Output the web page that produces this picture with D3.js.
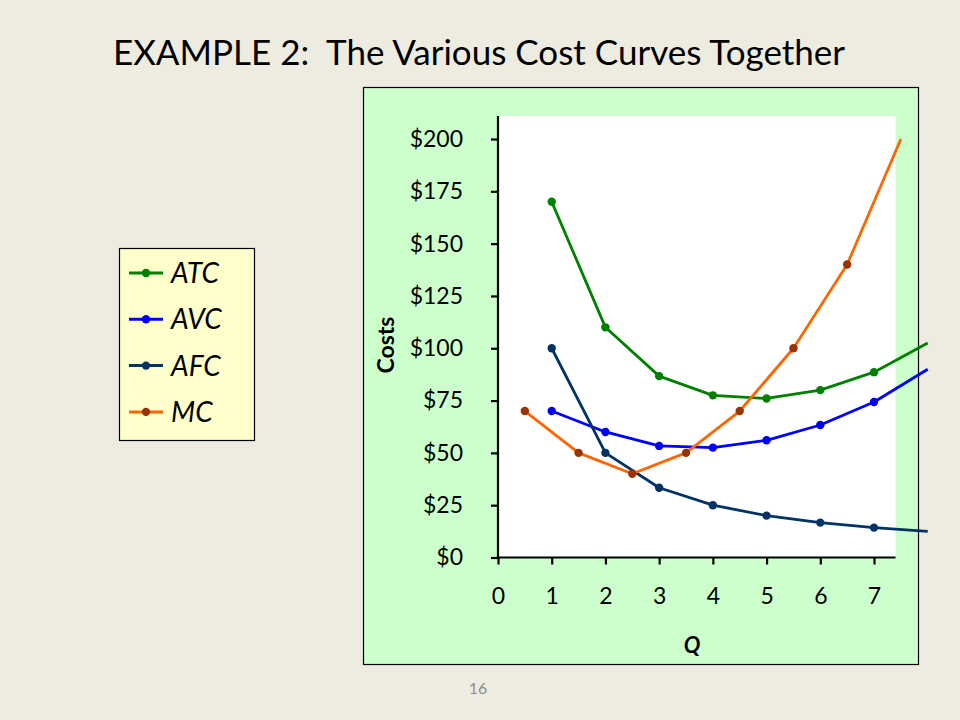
<!DOCTYPE html>
<html>
<head>
<meta charset="utf-8">
<script src="https://cdn.jsdelivr.net/npm/d3@7"></script>
<style>
  body { margin: 0; background: #eeece1; }
  svg { display: block; }
</style>
</head>
<body>
<svg id="chart" width="960" height="720"></svg>
<script>
// cost schedule (FC = 100)
var quantities = [1, 2, 3, 4, 5, 6, 7, 8];
var atc = [170, 110, 86.67, 77.5, 76, 80, 88.57, 102.5];
var avc = [70, 60, 53.33, 52.5, 56, 63.33, 74.29, 90];
var afc = [100, 50, 33.33, 25, 20, 16.67, 14.29, 12.5];
var mcQuantities = [0.5, 1.5, 2.5, 3.5, 4.5, 5.5, 6.5, 7.5];
var mc = [70, 50, 40, 50, 70, 100, 140, 200];

var xTicks = [0, 1, 2, 3, 4, 5, 6, 7];
var yTicks = [0, 25, 50, 75, 100, 125, 150, 175, 200];
var seriesNames = ['ATC', 'AVC', 'AFC', 'MC'];

var font = 'Lato, "Open Sans", sans-serif';

var series = [
   {name: 'ATC', xs: quantities, ys: atc, line: '#008000', dot: '#008000'},
   {name: 'AVC', xs: quantities, ys: avc, line: '#0000ff', dot: '#0000ff'},
   {name: 'AFC', xs: quantities, ys: afc, line: '#003366', dot: '#003366'},
   {name: 'MC',  xs: mcQuantities, ys: mc, line: '#ff6600', dot: '#993300'}
];

var svg = d3.select('#chart');

svg.append('rect')
   .attr('width', 960).attr('height', 720)
   .attr('fill', '#eeece1');

// title
svg.append('text')
   .attr('x', 479)
   .attr('y', 65)
   .attr('text-anchor', 'middle')
   .style('font-family', font)
   .style('font-size', '35px')
   .style('white-space', 'pre')
   .attr('fill', '#000')
   .text('EXAMPLE 2:  The Various Cost Curves Together');

// green panel
svg.append('rect')
   .attr('x', 363.5).attr('y', 87.5)
   .attr('width', 555).attr('height', 577)
   .attr('fill', '#ccffcc')
   .attr('stroke', '#000')
   .attr('stroke-width', 1.2);

var x = d3.scaleLinear().domain([0, 7.4]).range([498, 895.5]);
var y = d3.scaleLinear().domain([0, 211]).range([557.5, 116]);

// white plot area
svg.append('rect')
   .attr('x', x(0)).attr('y', y(211))
   .attr('width', x(7.4) - x(0))
   .attr('height', y(0) - y(211))
   .attr('fill', '#fff');

// axes
var yAxis = d3.axisLeft(y)
   .tickValues(yTicks)
   .tickSize(7)
   .tickPadding(28)
   .tickFormat(function(d) { return '$' + d; });

var gy = svg.append('g')
   .attr('transform', 'translate(' + x(0) + ',0)')
   .call(yAxis);

var xAxis = d3.axisBottom(x)
   .tickValues(xTicks)
   .tickSize(7)
   .tickPadding(23)
   .tickFormat(d3.format('d'));

var gx = svg.append('g')
   .attr('transform', 'translate(0,' + y(0) + ')')
   .call(xAxis);

[gx, gy].forEach(function(g) {
   g.select('.domain')
      .attr('stroke', '#000')
      .attr('stroke-width', 2.2);
   g.selectAll('.tick line')
      .attr('stroke', '#000')
      .attr('stroke-width', 2.2);
   g.selectAll('.tick text')
      .attr('fill', '#000')
      .style('font-family', font)
      .style('font-size', '23px');
});
gy.select('.domain').attr('d', 'M0,' + y(211) + 'V' + y(0));
gx.select('.domain').attr('d', 'M' + x(0) + ',0H' + x(7.4));

// axis titles
svg.append('text')
   .attr('transform', 'translate(394,345) rotate(-90)')
   .attr('text-anchor', 'middle')
   .style('font-family', font)
   .style('font-size', '23px')
   .style('font-weight', 'bold')
   .text('Costs');

svg.append('text')
   .attr('x', 692)
   .attr('y', 653)
   .attr('text-anchor', 'middle')
   .style('font-family', font)
   .style('font-size', '22px')
   .style('font-weight', 'bold')
   .style('font-style', 'italic')
   .text('Q');

// curves
var line = d3.line()
   .x(function(d) { return x(d[0]); })
   .y(function(d) { return y(d[1]); });

series.forEach(function(s) {
   var pts = s.xs.map(function(q, i) { return [q, s.ys[i]]; });

   svg.append('path')
      .datum(pts)
      .attr('d', line)
      .attr('fill', 'none')
      .attr('stroke', s.line)
      .attr('stroke-width', 2.8)
      .attr('stroke-linejoin', 'round');

   svg.append('g')
      .selectAll('circle')
      .data(pts.filter(function(d) { return d[0] <= 7.4; }))
      .enter().append('circle')
      .attr('cx', function(d) { return x(d[0]); })
      .attr('cy', function(d) { return y(d[1]); })
      .attr('r', 4.2)
      .attr('fill', s.dot);
});

// legend
var legend = svg.append('g');
legend.append('rect')
   .attr('x', 119.5).attr('y', 248.5)
   .attr('width', 135).attr('height', 192)
   .attr('fill', '#ffffcc')
   .attr('stroke', '#000')
   .attr('stroke-width', 1.2);

var items = legend.selectAll('g.item')
   .data(series)
   .enter().append('g')
   .attr('class', 'item')
   .attr('transform', function(d, i) { return 'translate(0,' + (273 + i * 46.3) + ')'; });

items.append('line')
   .attr('x1', 129).attr('x2', 163)
   .attr('stroke', function(d) { return d.line; })
   .attr('stroke-width', 3);

items.append('circle')
   .attr('cx', 146)
   .attr('r', 4.2)
   .attr('fill', function(d) { return d.dot; });

items.append('text')
   .attr('x', 171)
   .attr('y', 10)
   .style('font-family', font)
   .style('font-size', '28px')
   .style('font-style', 'italic')
   .text(function(d, i) { return seriesNames[i]; });

// slide number
svg.append('text')
   .attr('x', 478)
   .attr('y', 694)
   .attr('text-anchor', 'middle')
   .style('font-family', font)
   .style('font-size', '16px')
   .attr('fill', '#8c8c8c')
   .text('16');
</script>
</body>
</html>
